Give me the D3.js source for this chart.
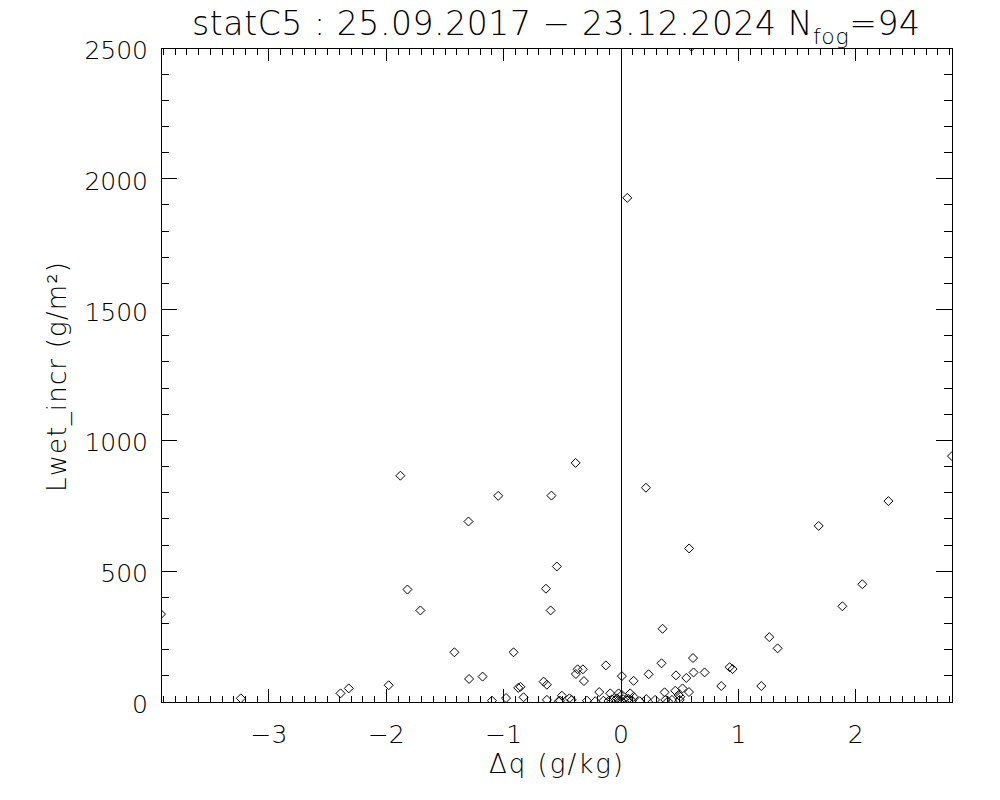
<!DOCTYPE html>
<html>
<head>
<meta charset="utf-8">
<script src="https://cdn.jsdelivr.net/npm/d3@7"></script>
<style>
  html, body { margin: 0; padding: 0; background: #fff; }
  svg text { font-family: "DejaVu Sans", sans-serif; font-weight: 200; fill: #000; }
</style>
</head>
<body>
<svg id="chart" width="1000" height="800"></svg>
<script>
// ---- data ----
const dq = [
  -3.92, -3.24, -2.39, -2.32, -1.98, -1.88, -1.82, -1.71, -1.42, -1.295,
  -1.30, -1.18, -1.047, -1.10, -0.98, -0.916, -0.876, -0.857, -0.831, -0.66,
  -0.632, -0.632, -0.64, -0.593, -0.60, -0.547, -0.52, -0.504, -0.44, -0.42,
  -0.387, -0.385, -0.37, -0.325, -0.316, -0.29, -0.186, -0.129, -0.092, -0.021,
  0.007, 0.007, 0.078, 0.107, 0.107, 0.053, 0.212, 0.235, 0.215, 0.29,
  0.354, 0.345, 0.371, 0.377, 0.434, 0.462, 0.468, 0.49, 0.505, 0.524,
  0.556, 0.579, 0.58, 0.613, 0.618, 0.712, 0.854, 0.925, 0.951, 1.195,
  1.263, 1.334, 1.684, 1.886, 2.056, 2.278, 2.82, 0.60, -0.15, -0.107,
  -0.078, -0.05, -0.035, -0.021, 0.0, 0.02, 0.05, 0.064, 0.093, 0.50,
  0.40, -0.53, -0.22, 0.16
];
const lwet = [
  336, 14, 33, 52, 64, 865, 430, 350, 190, 88,
  690, 97, 788, 5, 15, 190, 54, 58, 18, 78,
  66, 8, 433, 789, 350, 518, 5, 24, 14, 8,
  914, 107, 125, 125, 80, 5, 38, 140, 33, 33,
  27, 99, 33, 81, 20, 1927, 819, 106, 11, 8,
  280, 148, 37, 8, 8, 43, 102, 27, 20, 52,
  92, 38, 587, 168, 113, 113, 61, 133, 126, 61,
  248, 205, 673, 366, 450, 768, 940, 2505, 5, 4,
  10, 6, 14, 8, 4, 10, 6, 12, 5, 8,
  3, 3, 3, 3
];
const xTickValues = [-3, -2, -1, 0, 1, 2];
const xTickLabels = ["\u22123", "\u22122", "\u22121", "0", "1", "2"];
const yTickValues = [0, 500, 1000, 1500, 2000, 2500];
const yTickLabels = ["0", "500", "1000", "1500", "2000", "2500"];
const xDomain = [-3.92, 2.82];
const yDomain = [0, 2500];

// ---- layout ----
const L = 161, R = 952, T = 48, B = 702;
const svg = d3.select("#chart");
const x = d3.scaleLinear().domain(xDomain).range([L, R]);
const y = d3.scaleLinear().domain(yDomain).range([B, T]);

const xMajorLen = 13, xMinorLen = 6.5, yMajorLen = 16, yMinorLen = 8;

svg.append("defs").append("clipPath").attr("id", "clip")
  .append("rect").attr("x", L).attr("y", T).attr("width", R - L).attr("height", B - T);

const g = svg.append("g").attr("shape-rendering", "crispEdges");

// frame
g.append("rect").attr("x", L).attr("y", T).attr("width", R - L).attr("height", B - T)
  .attr("fill", "none").attr("stroke", "#000").attr("stroke-width", 1);

// x ticks (bottom and top)
const xMinor = d3.range(-39, 29).map(v => v / 10).filter(v => v >= xDomain[0] && v <= xDomain[1]);
xMinor.forEach(v => {
  const major = Math.abs(v - Math.round(v)) < 1e-9;
  const len = major ? xMajorLen : xMinorLen;
  g.append("line").attr("x1", x(v)).attr("x2", x(v)).attr("y1", B).attr("y2", B - len).attr("stroke", "#000");
  g.append("line").attr("x1", x(v)).attr("x2", x(v)).attr("y1", T).attr("y2", T + len).attr("stroke", "#000");
});
// y ticks (left and right)
d3.range(0, 2501, 100).forEach(v => {
  const major = v % 500 === 0;
  const len = major ? yMajorLen : yMinorLen;
  g.append("line").attr("x1", L).attr("x2", L + len).attr("y1", y(v)).attr("y2", y(v)).attr("stroke", "#000");
  g.append("line").attr("x1", R).attr("x2", R - len).attr("y1", y(v)).attr("y2", y(v)).attr("stroke", "#000");
});

// vertical zero line
g.append("line").attr("x1", x(0)).attr("x2", x(0)).attr("y1", B).attr("y2", T).attr("stroke", "#000");

// tick labels
svg.selectAll("text.xt").data(xTickValues).join("text")
  .attr("class", "xt").attr("x", d => x(d)).attr("y", 743)
  .attr("text-anchor", "middle").attr("font-size", 25)
  .text((d, i) => xTickLabels[i]);
svg.selectAll("text.yt").data(yTickValues).join("text")
  .attr("class", "yt").attr("x", 148).attr("y", d => y(d) + 11)
  .attr("text-anchor", "end").attr("font-size", 25)
  .text((d, i) => yTickLabels[i]);

// axis titles
svg.append("text").attr("x", 556).attr("y", 773).attr("text-anchor", "middle")
  .attr("font-size", 26).attr("textLength", 134).attr("lengthAdjust", "spacing")
  .text("\u0394q (g/kg)");
svg.append("text").attr("transform", "translate(66,377) rotate(-90)").attr("text-anchor", "middle")
  .attr("font-size", 26).attr("textLength", 230).attr("lengthAdjust", "spacing")
  .text("Lwet_incr (g/m\u00B2)");

// title
const title = svg.append("text").attr("x", 556).attr("y", 35).attr("text-anchor", "middle")
  .attr("font-size", 33).attr("textLength", 728).attr("lengthAdjust", "spacing");
title.append("tspan").text("statC5 : 25.09.2017 \u2212 23.12.2024 N");
title.append("tspan").attr("font-size", 22).attr("dy", 9).text("fog");
title.append("tspan").attr("dy", -9).text("=94");

// points
const pts = dq.map((d, i) => ({ x: d, y: lwet[i] }));
const r = 4.5;
svg.append("g").attr("clip-path", "url(#clip)")
  .selectAll("path").data(pts).join("path")
  .attr("d", d => {
    const cx = x(d.x), cy = y(d.y);
    return `M${cx},${cy - r}L${cx + r},${cy}L${cx},${cy + r}L${cx - r},${cy}Z`;
  })
  .attr("fill", "none").attr("stroke", "#000").attr("stroke-width", 1);
</script>
</body>
</html>
